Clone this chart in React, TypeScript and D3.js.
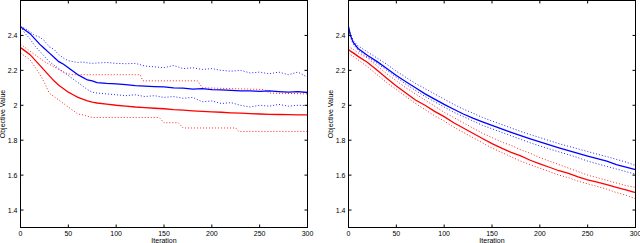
import React from "react";
import * as d3 from "d3";

// ---------- Data ----------
const iterL = [0,5,10,15,20,25,30,35,40,45,50,55,60,65,70,75,80,90,100,110,120,130,140,150,160,170,180,190,200,210,220,230,240,250,260,270,280,290,300];
const blueMeanL = [2.45,2.43,2.41,2.38,2.35,2.325,2.3,2.275,2.25,2.235,2.215,2.195,2.175,2.16,2.145,2.14,2.13,2.125,2.122,2.118,2.113,2.11,2.107,2.105,2.1,2.098,2.092,2.095,2.09,2.088,2.085,2.082,2.083,2.08,2.082,2.078,2.075,2.078,2.073];
const blueUpperL = [2.45,2.44,2.42,2.4,2.39,2.37,2.335,2.32,2.29,2.27,2.255,2.25,2.245,2.248,2.243,2.24,2.242,2.245,2.24,2.238,2.24,2.225,2.22,2.215,2.228,2.21,2.215,2.205,2.21,2.2,2.195,2.2,2.185,2.19,2.18,2.19,2.175,2.19,2.16];
const blueLowerL = [2.45,2.41,2.38,2.34,2.31,2.28,2.25,2.23,2.21,2.19,2.17,2.15,2.13,2.11,2.09,2.075,2.07,2.065,2.06,2.055,2.06,2.05,2.055,2.045,2.05,2.04,2.045,2.02,2.025,2.01,2.015,2.0,1.99,2.0,1.995,2.005,1.995,2.0,1.998];
const redMeanL = [2.33,2.31,2.29,2.26,2.23,2.2,2.17,2.14,2.115,2.095,2.075,2.06,2.045,2.035,2.025,2.018,2.013,2.007,2.0,1.995,1.99,1.987,1.983,1.98,1.975,1.972,1.968,1.965,1.962,1.96,1.957,1.955,1.952,1.95,1.948,1.947,1.946,1.945,1.945];
const redUpperIterL = [0,5,10,15,20,25,30,35,40,45,50,55,125,128,185,190,255,260,300];
const redUpperL = [2.35,2.33,2.31,2.29,2.27,2.25,2.235,2.22,2.205,2.19,2.18,2.175,2.175,2.14,2.14,2.1,2.09,2.07,2.065];
const redLowerIterL = [0,5,10,15,20,25,30,35,40,45,50,55,60,65,75,145,150,165,170,225,228,300];
const redLowerL = [2.3,2.28,2.26,2.22,2.18,2.13,2.07,2.05,2.03,2.01,1.99,1.97,1.95,1.945,1.93,1.93,1.9,1.9,1.87,1.87,1.85,1.85];

const iterR = [0,2,5,10,20,30,40,50,60,70,80,90,100,110,120,130,140,150,160,170,180,190,200,210,220,230,240,250,260,270,280,290,300];
const blueMeanR = [2.45,2.4,2.36,2.325,2.285,2.25,2.21,2.17,2.135,2.1,2.065,2.035,2.005,1.977,1.95,1.926,1.905,1.885,1.865,1.845,1.826,1.808,1.79,1.773,1.756,1.74,1.724,1.709,1.695,1.68,1.66,1.646,1.632];
const blueUpperR = [2.45,2.41,2.37,2.34,2.305,2.27,2.235,2.195,2.16,2.125,2.095,2.065,2.035,2.005,1.978,1.955,1.93,1.91,1.89,1.87,1.85,1.832,1.815,1.797,1.78,1.765,1.75,1.735,1.72,1.706,1.69,1.675,1.655];
const blueLowerR = [2.45,2.39,2.35,2.315,2.275,2.24,2.2,2.16,2.12,2.085,2.05,2.02,1.99,1.96,1.935,1.91,1.885,1.865,1.845,1.825,1.805,1.785,1.767,1.75,1.733,1.717,1.7,1.68,1.665,1.65,1.635,1.62,1.605];
const redMeanR = [2.32,2.31,2.3,2.28,2.245,2.2,2.155,2.11,2.07,2.03,2.0,1.965,1.935,1.9,1.87,1.84,1.81,1.78,1.755,1.73,1.71,1.685,1.665,1.645,1.625,1.61,1.59,1.573,1.56,1.545,1.53,1.515,1.5];
const redUpperR = [2.34,2.33,2.32,2.3,2.27,2.225,2.18,2.14,2.1,2.065,2.03,1.995,1.96,1.93,1.9,1.87,1.84,1.815,1.79,1.77,1.745,1.725,1.7,1.68,1.66,1.64,1.62,1.6,1.585,1.57,1.555,1.54,1.53];
const redLowerR = [2.3,2.29,2.28,2.26,2.22,2.175,2.13,2.09,2.05,2.01,1.975,1.94,1.91,1.875,1.845,1.815,1.785,1.755,1.73,1.705,1.68,1.66,1.64,1.62,1.6,1.585,1.565,1.55,1.535,1.52,1.5,1.485,1.465];

const xTicks = [0, 50, 100, 150, 200, 250, 300];
const yTicks = [1.4, 1.6, 1.8, 2.0, 2.2, 2.4];
const xLabel = "Iteration";
const yLabel = "Objective Value";

type Series = { xs: number[]; ys: number[]; color: string; dotted: boolean };

const BLUE = "#0000ff";
const RED = "#ff0000";

const panels: { x0: number; x1: number; series: Series[] }[] = [
  {
    x0: 20.5,
    x1: 307.5,
    series: [
      { xs: iterL, ys: blueUpperL, color: BLUE, dotted: true },
      { xs: iterL, ys: blueLowerL, color: BLUE, dotted: true },
      { xs: redUpperIterL, ys: redUpperL, color: RED, dotted: true },
      { xs: redLowerIterL, ys: redLowerL, color: RED, dotted: true },
      { xs: iterL, ys: blueMeanL, color: BLUE, dotted: false },
      { xs: iterL, ys: redMeanL, color: RED, dotted: false },
    ],
  },
  {
    x0: 348.5,
    x1: 635.5,
    series: [
      { xs: iterR, ys: blueUpperR, color: BLUE, dotted: true },
      { xs: iterR, ys: blueLowerR, color: BLUE, dotted: true },
      { xs: iterR, ys: redUpperR, color: RED, dotted: true },
      { xs: iterR, ys: redLowerR, color: RED, dotted: true },
      { xs: iterR, ys: blueMeanR, color: BLUE, dotted: false },
      { xs: iterR, ys: redMeanR, color: RED, dotted: false },
    ],
  },
];

const Y_TOP = 0.5;
const Y_BOT = 227.5;
const FONT = "'Liberation Sans', Arial, Helvetica, sans-serif";

function Panel({ x0, x1, series }: { x0: number; x1: number; series: Series[] }) {
  const x = d3.scaleLinear().domain([0, 300]).range([x0, x1]);
  const y = d3.scaleLinear().domain([1.3, 2.6]).range([Y_BOT, Y_TOP]);
  const fmt = (v: number) => d3.format("~g")(v);
  return (
    <g>
      {series.map((s, i) => {
        const line = d3
          .line<number>()
          .x((_, j) => x(s.xs[j]))
          .y((v) => y(v));
        return (
          <path
            key={i}
            d={line(s.ys) || ""}
            fill="none"
            stroke={s.color}
            strokeWidth={s.dotted ? 1 : 1.3}
            strokeDasharray={s.dotted ? "1,2" : undefined}
            opacity={s.dotted ? 0.85 : 1}
          />
        );
      })}
      <rect x={x0} y={Y_TOP} width={x1 - x0} height={Y_BOT - Y_TOP} fill="none" stroke="#000" strokeWidth={1} />
      {xTicks.map((t) => (
        <g key={"x" + t}>
          <line x1={x(t)} x2={x(t)} y1={Y_BOT} y2={Y_BOT - 3} stroke="#000" />
          <line x1={x(t)} x2={x(t)} y1={Y_TOP} y2={Y_TOP + 3} stroke="#000" />
          <text x={x(t)} y={235.5} fontSize={7} textAnchor="middle" fontFamily={FONT}>
            {fmt(t)}
          </text>
        </g>
      ))}
      {yTicks.map((t) => (
        <g key={"y" + t}>
          <line x1={x0} x2={x0 + 3} y1={y(t)} y2={y(t)} stroke="#000" />
          <line x1={x1} x2={x1 - 3} y1={y(t)} y2={y(t)} stroke="#000" />
          <text x={x0 - 3} y={y(t) + 2.5} fontSize={7} textAnchor="end" fontFamily={FONT}>
            {fmt(t)}
          </text>
        </g>
      ))}
      <text x={(x0 + x1) / 2} y={243} fontSize={7} textAnchor="middle" fontFamily={FONT}>
        {xLabel}
      </text>
      <text
        transform={`translate(${x0 - 15.5},${(Y_TOP + Y_BOT) / 2}) rotate(-90)`}
        fontSize={7}
        textAnchor="middle"
        fontFamily={FONT}
      >
        {yLabel}
      </text>
    </g>
  );
}

export default function App() {
  return (
    <svg
      width={640}
      height={243}
      style={{ position: "absolute", left: 0, top: 0, background: "#fff" }}
    >
      <rect width={640} height={243} fill="#fff" />
      {panels.map((p, i) => (
        <Panel key={i} {...p} />
      ))}
    </svg>
  );
}
